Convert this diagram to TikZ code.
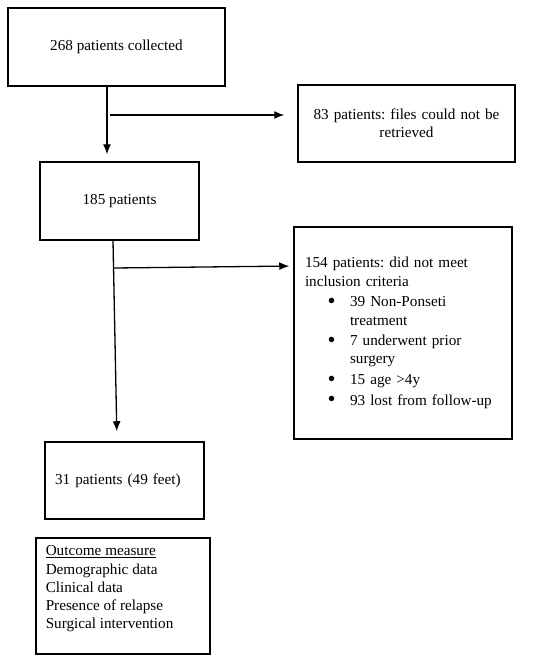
\documentclass[tikz,border=0pt]{standalone}
\usepackage{fontspec}
\setmainfont{Liberation Serif}
\usetikzlibrary{arrows.meta}
\tikzset{
  box/.style={draw, line width=1.5pt, inner sep=0pt, font=\fontsize{15.2}{18.2}\selectfont},
  arr/.style={line width=1.3pt, -{Latex[length=10pt,width=8pt]}}
}
\newcommand{\itembul}{\hspace*{22.5pt}\makebox[22.5pt][l]{\raisebox{-1.6pt}{\scalebox{1.5}{\textbullet}}}}
\frenchspacing
\begin{document}
\begin{tikzpicture}[x=1pt,y=-1pt]
\useasboundingbox (0,0) rectangle (550,662);
\node[box, minimum width=217pt, minimum height=78pt] (collected) at (116.5,47) {268 patients collected};
\node[box, minimum width=217pt, minimum height=77pt, text width=195pt, align=center] (files) at (406.5,123.5)
  {83 patients: files could not be\\retrieved};
\node[box, minimum width=159pt, minimum height=78pt] (remain) at (119.5,201) {185 patients};
\node[box, minimum height=212pt, text width=196pt, inner xsep=11pt, align=left] (criteria) at (403,333)
  {154 patients: did not meet\\inclusion criteria\\[2.5pt]
   \itembul 39 Non-Ponseti\\\hspace*{45pt}treatment\\[2.5pt]
   \itembul 7 underwent prior\\\hspace*{45pt}surgery\\[2.5pt]
   \itembul 15 age >4y\\[2.5pt]
   \itembul 93 lost from follow-up};
\node[box, minimum height=77pt, text width=139pt, inner xsep=10pt, align=left] (final) at (124.5,480.5)
  {31 patients (49 feet)};
\node[box, anchor=north west] (outcome) at (35,537)
  {\parbox[t][116pt][t]{174pt}{\vspace*{8pt}\leftskip=10pt\relax
   \underline{Outcome measure}\\Demographic data\\Clinical data\\Presence of relapse\\Surgical intervention}};
% flow arrows
\draw[arr, shorten >=7pt] ([xshift=-9.5pt]collected.south) -- ([xshift=-12.5pt]remain.north);
\coordinate (split1) at (110,115);
\draw[arr, shorten >=13pt] (split1) -- (split1 -| files.west);
\draw[arr, shorten >=10pt] ([xshift=-6.5pt]remain.south) -- ([xshift=-7.5pt]final.north);
\coordinate (split2) at (114,268);
\draw[arr, shorten >=4pt] (split2) -- ([yshift=67pt]criteria.west);
\end{tikzpicture}
\end{document}
